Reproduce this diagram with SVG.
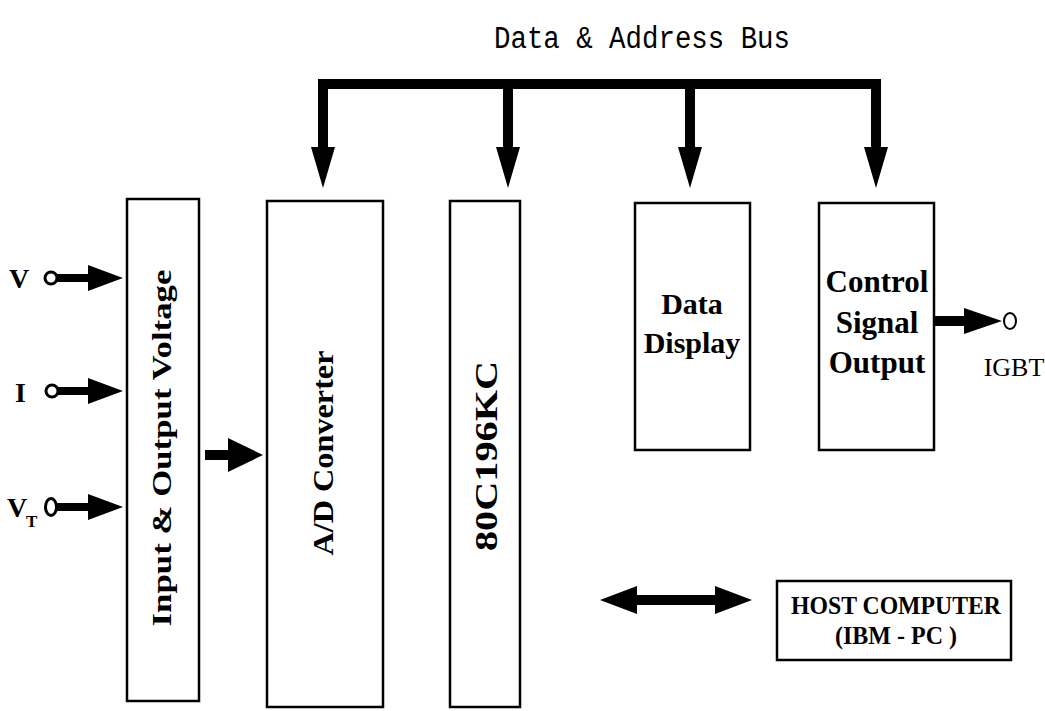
<svg xmlns="http://www.w3.org/2000/svg" width="1045" height="711" viewBox="0 0 1045 711">
  <style>
    .box { fill: #fff; stroke: #000; stroke-width: 2.5; }
    .arr { fill: #000; stroke: none; }
    .term { fill: #fff; stroke: #000; stroke-width: 3; }
    .lbl { font-family: "Liberation Serif", "Times New Roman", serif; font-weight: bold; fill: #000; }
    .bus { fill: none; stroke: #000; stroke-width: 10; stroke-linejoin: miter; }
    .mono { font-family: "Liberation Mono", "Courier New", monospace; fill: #000; }
  </style>
  <rect width="1045" height="711" fill="#fff"/>

  <!-- bus label -->
  <text class="mono" transform="translate(642,48) scale(1,1.2)" x="0" y="0" font-size="26" text-anchor="middle" textLength="296" lengthAdjust="spacingAndGlyphs">Data &amp; Address Bus</text>

  <!-- nodes -->
  <g id="io-voltage">
    <rect class="box" x="127" y="199" width="72" height="502"/>
    <text class="lbl" transform="translate(171,448) rotate(-90)" font-size="28" text-anchor="middle" textLength="357" lengthAdjust="spacingAndGlyphs">Input &amp; Output Voltage</text>
  </g>
  <g id="ad-converter">
    <rect class="box" x="267" y="201" width="116" height="506"/>
    <text class="lbl" transform="translate(333,453) rotate(-90)" font-size="30" text-anchor="middle" textLength="205" lengthAdjust="spacingAndGlyphs">A/D Converter</text>
  </g>
  <g id="mcu">
    <rect class="box" x="450" y="201" width="70" height="506"/>
    <text class="lbl" transform="translate(497,456) rotate(-90)" font-size="31" text-anchor="middle" textLength="190" lengthAdjust="spacingAndGlyphs">80C196KC</text>
  </g>
  <g id="data-display">
    <rect class="box" x="635" y="203" width="115" height="247"/>
    <text class="lbl" x="692" y="314" font-size="30" text-anchor="middle">Data</text>
    <text class="lbl" x="692" y="353" font-size="30" text-anchor="middle">Display</text>
  </g>
  <g id="control-output">
    <rect class="box" x="819" y="203" width="115" height="247"/>
    <text class="lbl" x="877" y="292" font-size="31" text-anchor="middle">Control</text>
    <text class="lbl" x="877" y="333" font-size="31" text-anchor="middle">Signal</text>
    <text class="lbl" x="877" y="373" font-size="31" text-anchor="middle">Output</text>
  </g>
  <g id="host-computer">
    <rect class="box" x="777" y="581" width="234" height="79"/>
    <text class="lbl" x="896" y="614" font-size="26" text-anchor="middle" textLength="210" lengthAdjust="spacingAndGlyphs">HOST COMPUTER</text>
    <text class="lbl" x="896" y="644" font-size="26" text-anchor="middle" textLength="122" lengthAdjust="spacingAndGlyphs">(IBM - PC )</text>
  </g>

  <!-- terminals and their labels -->
  <g id="terminals">
    <text class="lbl" x="9" y="288" font-size="28">V</text>
    <text class="lbl" x="15" y="402" font-size="28">I</text>
    <text class="lbl" x="7" y="517" font-size="28">V</text>
    <text class="lbl" x="26" y="527" font-size="17">T</text>
    <circle class="term" cx="51" cy="278" r="6"/>
    <circle class="term" cx="52" cy="391" r="6"/>
    <ellipse class="term" cx="51" cy="507" rx="5.5" ry="8.5"/>
    <ellipse cx="1010" cy="321" rx="6" ry="8" fill="#fff" stroke="#000" stroke-width="2"/>
    <text x="1014" y="376" font-family="'Liberation Serif', 'Times New Roman', serif" font-size="26" text-anchor="middle">IGBT</text>
  </g>

  <!-- connectors -->
  <g id="connectors">
    <!-- data & address bus -->
    <path class="bus" d="M323,150 V84 H876 V150 M508,84 V150 M690,84 V150"/>
    <path class="arr" d="M311,147 H335 L323,188 Z"/>
    <path class="arr" d="M496,147 H520 L508,188 Z"/>
    <path class="arr" d="M678,147 H702 L690,188 Z"/>
    <path class="arr" d="M864,147 H888 L876,188 Z"/>

    <!-- analog inputs -->
    <path class="arr" d="M57,274 H88 V265 L123,278 L88,291 V282 H57 Z"/>
    <path class="arr" d="M58,387 H88 V378 L123,391 L88,404 V395 H58 Z"/>
    <path class="arr" d="M56,503 H88 V494 L123,507 L88,520 V511 H56 Z"/>

    <!-- conditioning to A/D -->
    <path class="arr" d="M205,450 H228 V438 L263,455 L228,472 V460 H205 Z"/>

    <!-- control output to IGBT -->
    <path class="arr" d="M935,316 H964 V308 L1002,321 L964,334 V326 H935 Z"/>

    <!-- serial link with host -->
    <path class="arr" d="M600,600 L637,586 V595 H715 V586 L752,600 L715,614 V605 H637 V614 Z"/>
  </g>
</svg>
